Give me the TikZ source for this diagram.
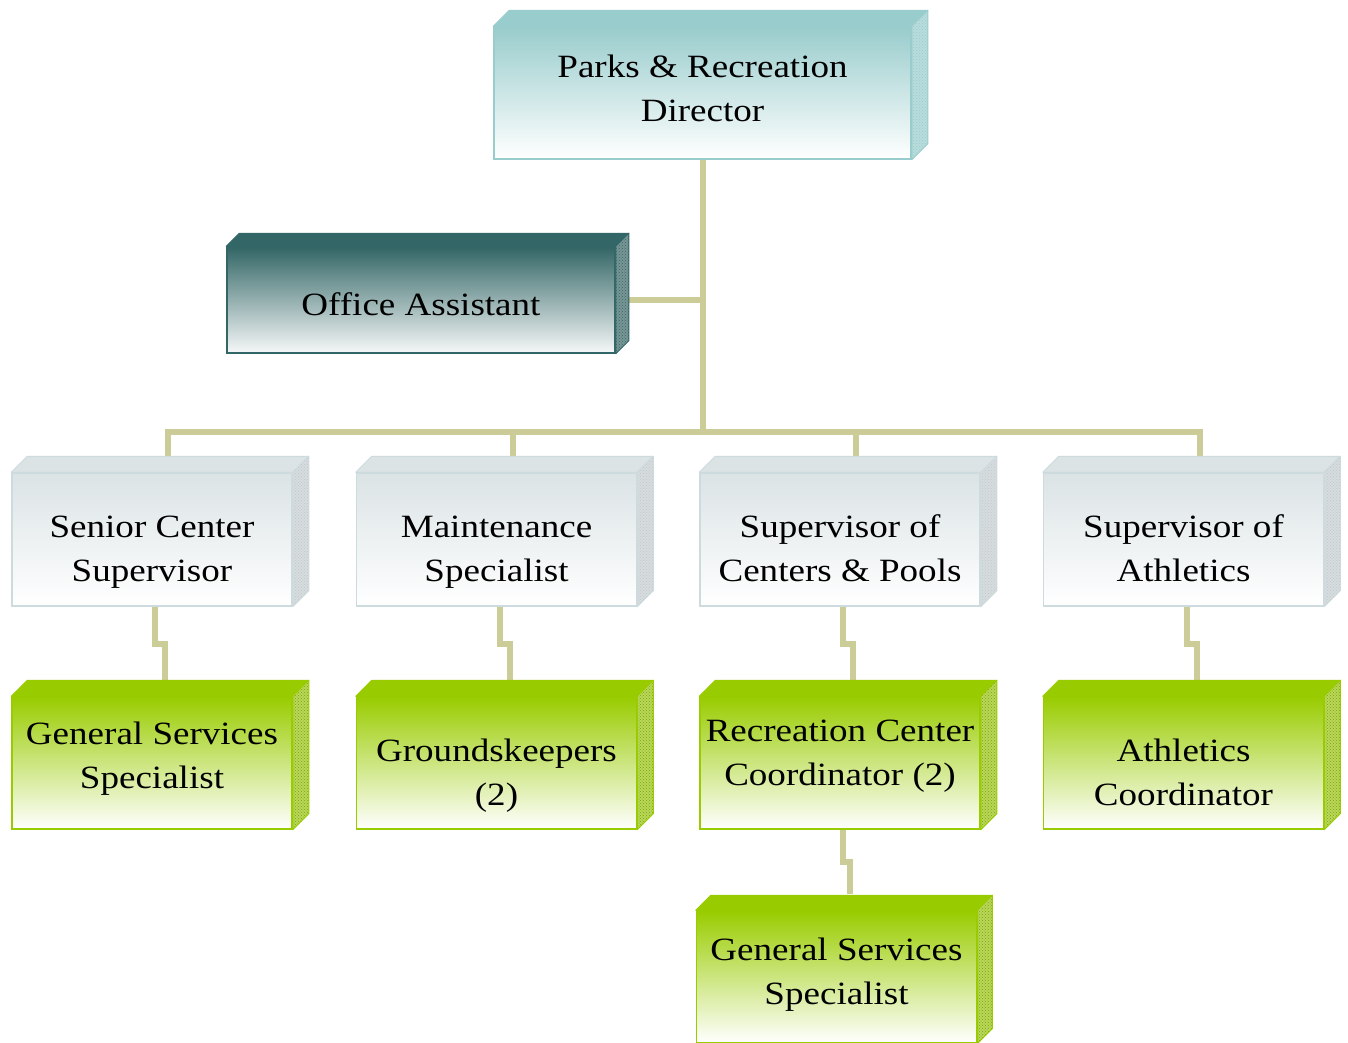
\documentclass[tikz,border=0pt]{standalone}
\usepackage{fontspec}
\setmainfont{Liberation Serif}
\usetikzlibrary{patterns,calc}
\pgfdeclarelayer{bg}
\pgfsetlayers{bg,main}
\definecolor{conncol}{RGB}{204,204,153}
\definecolor{dirc}{RGB}{153,204,204}
\definecolor{dirside}{RGB}{185,220,220}
\definecolor{offc}{RGB}{51,102,102}
\definecolor{offbot}{RGB}{246,248,248}
\definecolor{offside}{RGB}{120,150,150}
\definecolor{greyc}{RGB}{219,227,229}
\definecolor{greyedge}{RGB}{206,219,222}
\definecolor{greyside}{RGB}{215,220,222}
\definecolor{greenc}{RGB}{153,204,0}
\definecolor{greenside}{RGB}{185,215,90}
\newcommand\bt[1]{\scalebox{1.14}[1]{\begin{tabular}{@{}c@{}}#1\end{tabular}}}
\newcommand\cube[6]{%
  \node[#2 front, minimum width=#4pt, minimum height=#5pt] (#1) at #3 {};
  \path[#2 top] (#1.north west) -- ++(#6pt,#6pt) -- ([shift={(#6pt,#6pt)}]#1.north east) -- (#1.north east) -- cycle;
  \path[#2 side] (#1.north east) -- ++(#6pt,#6pt) -- ([shift={(#6pt,#6pt)}]#1.south east) -- (#1.south east) -- cycle;
}
\newcommand\elbow[2]{%
  \coordinate (a) at ([xshift=3pt]#1.south);
  \coordinate (b) at ([xshift=13pt,yshift=16pt]#2.north);
  \coordinate (m) at ($(a)!0.5!(b)$);
  \draw[conn] (a) -- (a |- m) -- (b |- m) -- (b);
}
\tikzset{
  conn/.style={draw=conncol, line width=6pt, line join=miter, line cap=butt},
  btext/.style={inner sep=0pt, font=\fontsize{32.5}{44}\selectfont},
  dir front/.style={draw=dirc, line width=1.5pt, top color=dirc, bottom color=white, inner sep=0pt},
  dir top/.style={draw=dirc, line width=1pt, fill=dirc, line join=round},
  dir side/.style={draw=dirc, line width=1pt, line join=round, preaction={fill=dirside}, pattern=crosshatch dots, pattern color=dirc},
  off front/.style={draw=offc, line width=1.5pt, top color=offc, bottom color=offbot, inner sep=0pt},
  off top/.style={draw=offc, line width=1pt, fill=offc, line join=round},
  off side/.style={draw=offc, line width=1pt, line join=round, preaction={fill=offside}, pattern=crosshatch dots, pattern color=offc},
  grey front/.style={draw=greyedge, line width=1.5pt, top color=greyc, bottom color=white, inner sep=0pt},
  grey top/.style={draw=greyedge, line width=1pt, fill=greyc, line join=round},
  grey side/.style={draw=greyedge, line width=1pt, line join=round, preaction={fill=greyside}, pattern=crosshatch dots, pattern color=greyedge!80!gray},
  green front/.style={draw=greenc, line width=1.5pt, top color=greenc, bottom color=white, inner sep=0pt},
  green top/.style={draw=greenc, line width=1pt, fill=greenc, line join=round},
  green side/.style={draw=greenc, line width=1pt, line join=round, preaction={fill=greenside}, pattern=crosshatch dots, pattern color=greenc!80!black},
}
\begin{document}
\begin{tikzpicture}[x=1pt,y=-1pt]
\useasboundingbox (0,0) rectangle (1348,1042);
\clip (0,0) rectangle (1348,1042);
\begin{pgfonlayer}{bg}
  \fill[white] (0,0) rectangle (1348,1042);
\end{pgfonlayer}

\cube{dir}{dir}{(702.5,93)}{417}{132}{16}
\cube{off}{off}{(421,300)}{388}{106}{13}
\cube{sc}{grey}{(152,539.5)}{280}{133}{16}
\cube{ms}{grey}{(496.5,539.5)}{280}{133}{16}
\cube{sp}{grey}{(840,539.5)}{280}{133}{16}
\cube{sa}{grey}{(1183.5,539.5)}{280}{133}{16}
\cube{gs1}{green}{(152,763)}{280}{132}{16}
\cube{gk}{green}{(496.5,763)}{280}{132}{16}
\cube{rc}{green}{(840,763)}{280}{132}{16}
\cube{ac}{green}{(1183.5,763)}{280}{132}{16}
\cube{gs2}{green}{(836.5,977)}{280}{132}{15}

\node[btext] (dir-t) at (702.5,90.5) {\bt{Parks \& Recreation\\Director}};
\node[btext] (off-t) at (421,306.5) {\bt{Office Assistant}};
\node[btext] (sc-t) at (152,551) {\bt{Senior Center\\Supervisor}};
\node[btext] (ms-t) at (496.5,551) {\bt{Maintenance\\Specialist}};
\node[btext] (sp-t) at (840,551) {\bt{Supervisor of\\Centers \& Pools}};
\node[btext] (sa-t) at (1183.5,551) {\bt{Supervisor of\\Athletics}};
\node[btext] (gs1-t) at (152,758) {\bt{General Services\\Specialist}};
\node[btext] (gk-t) at (496.5,775) {\bt{Groundskeepers\\(2)}};
\node[btext] (rc-t) at (840,755) {\bt{Recreation Center\\Coordinator (2)}};
\node[btext] (ac-t) at (1183.5,775) {\bt{Athletics\\Coordinator}};
\node[btext] (gs2-t) at (836.5,974) {\bt{General Services\\Specialist}};

\begin{pgfonlayer}{bg}
  \coordinate (bus) at (0,432);
  \draw[conn] (dir.south) -- (dir.south |- bus);
  \draw[conn] ([xshift=13pt]off.east) -- (off.east -| dir.south);
  \draw[conn] (dir.south |- bus) -| ([xshift=16pt,yshift=16pt]sc.north);
  \draw[conn] (dir.south |- bus) -| ([xshift=16pt,yshift=16pt]ms.north);
  \draw[conn] (dir.south |- bus) -| ([xshift=16pt,yshift=16pt]sp.north);
  \draw[conn] (dir.south |- bus) -| ([xshift=16pt,yshift=16pt]sa.north);
  \elbow{sc}{gs1}
  \elbow{ms}{gk}
  \elbow{sp}{rc}
  \elbow{sa}{ac}
  \elbow{rc}{gs2}
\end{pgfonlayer}
\end{tikzpicture}
\end{document}
